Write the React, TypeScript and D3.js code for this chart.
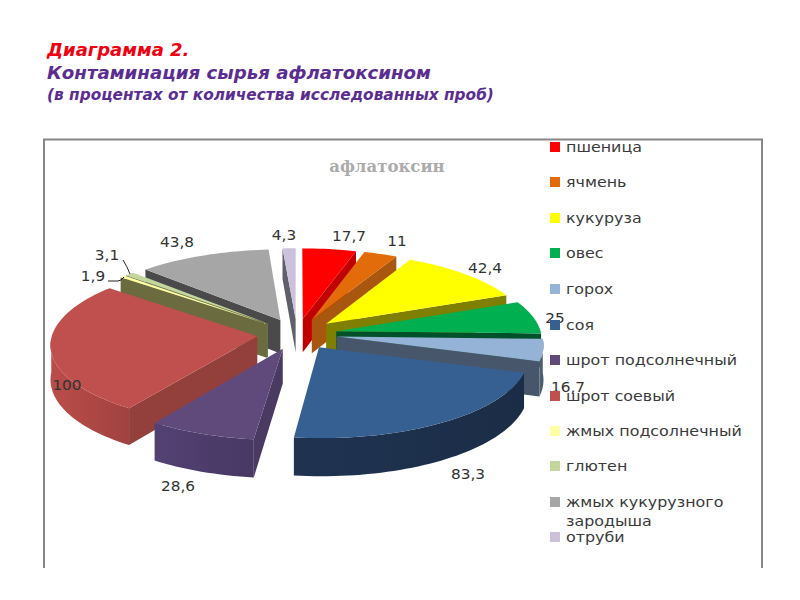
import * as d3 from 'd3';

const categories = ['пшеница', 'ячмень', 'кукуруза', 'овес', 'горох', 'соя', 'шрот подсолнечный', 'шрот соевый', 'жмых подсолнечный', 'глютен', 'жмых кукурузного зародыша', 'отруби'];
const values = [17.7, 11, 42.4, 25, 16.7, 83.3, 28.6, 100, 1.9, 3.1, 43.8, 4.3];
const valueLabels = ['17,7', '11', '42,4', '25', '16,7', '83,3', '28,6', '100', '1,9', '3,1', '43,8', '4,3'];
const topColors = ['#ff0000', '#e36c0a', '#ffff00', '#00b050', '#95b3d7', '#376092', '#604a7b', '#c0504d', '#ffffa6', '#c3d69b', '#a6a6a6', '#ccc1da'];
const cutColors = ['#c00000', '#a9560f', '#808000', '#00502a', '#47566a', '#1b3048', '#4a3a62', '#93403c', '#6b6b40', '#6f7448', '#4a4a4a', '#5f5f6b'];
const wallColors = ['#c00000', '#a9560f', '#808000', '#00703a', '#4a5a6e', '#1c2f4a', '#4c3b69', '#aa4643', '#6b6b40', '#6f7448', '#4a4a4a', '#5f5f6b'];

// annotation layout
const labelPos = [[349, 236], [397, 241], [485, 268], [555, 318], [568, 387], [468, 474], [178, 486], [67, 385], [93, 276], [107, 255], [177, 242], [284, 235]];
const legendY = [147, 182, 218, 253, 289, 325, 360, 396, 431, 466, 502, 537];

const cx = 297;
const cy = 334;
const radius = 205;
const explode = 40;
const tilt = 0.389;
const viewDist = 2200;
const depth = 34;
const textStretch = 1.135;

const project = (X: number, Y: number, z: number): [number, number] => {
  const s = viewDist / (viewDist - Y);
  return [cx + X * s, cy + (Y * tilt + z) * s];
};

const slices = d3.pie<number>().sort(null)(values);
const line = d3.line();

const shapes = slices.map((sl, i) => {
  const a = sl.startAngle;
  const b = sl.endAngle;
  const mid = (a + b) / 2;
  const ox = Math.sin(mid) * explode;
  const oy = -Math.cos(mid) * explode;
  const pt = (t: number, r: number, z: number) =>
    project(ox + Math.sin(t) * r, oy - Math.cos(t) * r, z);
  const steps = Math.max(2, Math.ceil((b - a) / 0.03));
  const rim = d3.range(steps + 1).map((k) => a + ((b - a) * k) / steps);

  const top = [pt(a, 0, 0), ...rim.map((t) => pt(t, radius, 0))];
  const cutA = [pt(a, 0, 0), pt(a, radius, 0), pt(a, radius, depth), pt(a, 0, depth)];
  const cutB = [pt(b, 0, 0), pt(b, radius, 0), pt(b, radius, depth), pt(b, 0, depth)];
  const front = rim.filter((t) => Math.cos(t) < 0);
  const wall = front.length
    ? [...front.map((t) => pt(t, radius, 0)), ...[...front].reverse().map((t) => pt(t, radius, depth))]
    : null;

  return {
    i,
    order: -Math.cos(mid),
    top: line(top) + 'Z',
    cutA: Math.sin(a) < 0 ? line(cutA) + 'Z' : null,
    cutB: Math.sin(b) > 0 ? line(cutB) + 'Z' : null,
    wall: wall ? line(wall) + 'Z' : null,
  };
});

const drawOrder = d3.sort(shapes, (s) => s.order);

export default function App() {
  const labelFont = '"DejaVu Sans", sans-serif';
  return (
    <svg width={800} height={600} style={{ position: 'absolute', left: 0, top: 0, background: '#fff' }}>
      <defs>
        {wallColors.map((c, i) => (
          <linearGradient key={i} id={`wall${i}`} x1="0" x2="1" y1="0" y2="0">
            <stop offset="0" stopColor={d3.color(c)!.brighter(0.25).formatHex()} />
            <stop offset="1" stopColor={d3.color(c)!.darker(0.15).formatHex()} />
          </linearGradient>
        ))}
      </defs>

      <g fontFamily={labelFont} fontWeight="bold" fontStyle="italic">
        <text x={47} y={56} fontSize={18} fill="#f00010">Диаграмма 2.</text>
        <text x={47} y={79} fontSize={18.2} fill="#5c2d91">Контаминация сырья афлатоксином</text>
        <text x={47} y={100} fontSize={15.35} fill="#5c2d91">(в процентах от количества исследованных проб)</text>
      </g>

      <path d="M44,568V139.5H762V568" fill="none" stroke="#868686" strokeWidth={2} />

      <text x={387} y={172} textAnchor="middle" fontFamily='"DejaVu Serif", serif' fontWeight="bold" fontSize={16.5} fill="#ababab">афлатоксин</text>

      {drawOrder.map((s) => (
        <g key={s.i}>
          {s.cutA && <path d={s.cutA} fill={cutColors[s.i]} />}
          {s.cutB && <path d={s.cutB} fill={cutColors[s.i]} />}
          {s.wall && <path d={s.wall} fill={`url(#wall${s.i})`} />}
          <path d={s.top} fill={topColors[s.i]} />
        </g>
      ))}

      <path d="M123,260Q127,266 130,274M108,281H118Q121,281 124,277" fill="none" stroke="#222" strokeWidth={1} />

      <g fontFamily={labelFont} fontSize={13.5} fill="#333" textAnchor="middle" dominantBaseline="central">
        {valueLabels.map((v, i) => (
          <text key={i} transform={`translate(${labelPos[i][0]},${labelPos[i][1]}) scale(${textStretch},1)`}>{v}</text>
        ))}
      </g>

      <g fontFamily={labelFont} fontSize={14} fill="#3a3a3a">
        {categories.map((c, i) => {
          const wrap = c === 'жмых кукурузного зародыша';
          return (
            <g key={c}>
              <rect x={550} y={legendY[i] - 5} width={10} height={10} fill={topColors[i]} />
              <text transform={`translate(566,${legendY[i]}) scale(${textStretch},1)`} dominantBaseline="central">{wrap ? 'жмых кукурузного' : c}</text>
              {wrap && <text transform={`translate(566,${legendY[i] + 19}) scale(${textStretch},1)`} dominantBaseline="central">зародыша</text>}
            </g>
          );
        })}
      </g>
    </svg>
  );
}
